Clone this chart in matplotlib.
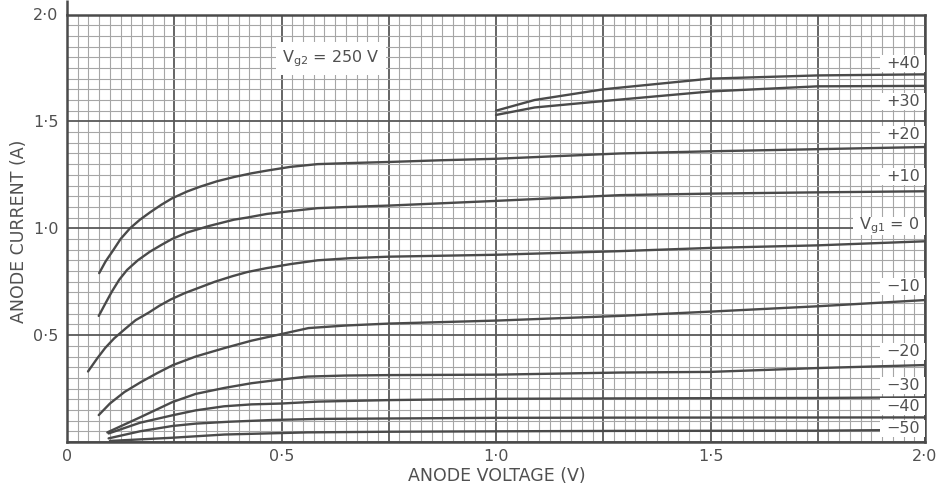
import matplotlib
matplotlib.use("Agg")
import matplotlib.pyplot as plt
from matplotlib.patches import Rectangle
from matplotlib.ticker import FixedLocator, FixedFormatter, MultipleLocator

plt.rcParams['font.family'] = ['DejaVu Sans']
plt.rcParams['mathtext.fontset'] = 'dejavusans'

# ---- axis ticks -------------------------------------------------------------
x_ticks = [0.0, 0.25, 0.5, 0.75, 1.0, 1.25, 1.5, 1.75, 2.0]
x_ticklabels = ['0', '', '0·5', '', '1·0', '', '1·5', '', '2·0']
y_ticks = [0.0, 0.5, 1.0, 1.5, 2.0]
y_ticklabels = ['', '0·5', '1·0', '1·5', '2·0']

# ---- anode characteristics (anode voltage, anode current) per grid-1 bias ----
p40_v = [1.00, 1.09, 1.25, 1.50, 1.75, 2.00]
p40_i = [1.55, 1.60, 1.65, 1.70, 1.715, 1.72]

p30_v = [1.00, 1.09, 1.25, 1.50, 1.75, 2.00]
p30_i = [1.53, 1.565, 1.595, 1.64, 1.664, 1.666]

p20_v = [0.075, 0.09, 0.107, 0.125, 0.147, 0.17, 0.194, 0.22, 0.245, 0.28, 0.311, 0.35,
         0.39, 0.43, 0.467, 0.52, 0.584, 0.66, 0.75, 0.87, 1.0, 1.15, 1.29, 1.5, 1.75, 2.0]
p20_i = [0.79, 0.845, 0.895, 0.95, 1.00, 1.04, 1.075, 1.11, 1.14, 1.172, 1.195, 1.22,
         1.24, 1.257, 1.27, 1.287, 1.30, 1.305, 1.31, 1.318, 1.325, 1.338, 1.35, 1.36, 1.37, 1.38]

p10_v = [0.074, 0.09, 0.105, 0.122, 0.14, 0.165, 0.193, 0.22, 0.245, 0.28, 0.33, 0.389,
         0.42, 0.466, 0.52, 0.584, 0.66, 0.75, 1.0, 1.29, 1.5, 1.75, 2.0]
p10_i = [0.59, 0.65, 0.705, 0.76, 0.805, 0.85, 0.89, 0.922, 0.95, 0.98, 1.01, 1.04,
         1.05, 1.067, 1.08, 1.094, 1.10, 1.106, 1.128, 1.155, 1.162, 1.168, 1.173]

z0_v = [0.049, 0.07, 0.089, 0.11, 0.136, 0.16, 0.191, 0.215, 0.242, 0.275, 0.308, 0.345,
        0.386, 0.42, 0.464, 0.52, 0.584, 0.66, 0.75, 1.0, 1.29, 1.5, 1.75, 2.0]
z0_i = [0.33, 0.39, 0.44, 0.485, 0.53, 0.57, 0.606, 0.637, 0.667, 0.697, 0.722, 0.75,
        0.776, 0.795, 0.813, 0.832, 0.85, 0.86, 0.867, 0.876, 0.893, 0.908, 0.92, 0.939]

m10_v = [0.074, 0.1, 0.134, 0.172, 0.21, 0.247, 0.3, 0.368, 0.43, 0.493, 0.563, 0.65,
         0.75, 1.0, 1.29, 1.5, 1.75, 2.0]
m10_i = [0.126, 0.18, 0.234, 0.28, 0.322, 0.36, 0.40, 0.44, 0.474, 0.502, 0.533, 0.545,
         0.554, 0.568, 0.59, 0.61, 0.635, 0.664]

m20_v = [0.094, 0.171, 0.246, 0.3, 0.367, 0.43, 0.49, 0.56, 0.65, 0.75, 1.0, 1.29, 1.5, 1.75, 2.0]
m20_i = [0.045, 0.116, 0.187, 0.225, 0.253, 0.275, 0.29, 0.306, 0.311, 0.313, 0.315, 0.325,
         0.328, 0.346, 0.36]

m30_v = [0.097, 0.17, 0.246, 0.3, 0.366, 0.43, 0.5, 0.585, 0.75, 1.0, 1.29, 1.5, 1.75, 2.0]
m30_i = [0.04, 0.09, 0.125, 0.148, 0.167, 0.176, 0.18, 0.189, 0.196, 0.202, 0.204, 0.205,
         0.206, 0.209]

m40_v = [0.097, 0.17, 0.246, 0.3, 0.38, 0.48, 0.585, 0.75, 1.0, 1.29, 2.0]
m40_i = [0.017, 0.05, 0.075, 0.086, 0.095, 0.103, 0.108, 0.11, 0.113, 0.114, 0.115]

m50_v = [0.10, 0.246, 0.367, 0.56, 0.75, 1.0, 1.29, 1.75, 2.0]
m50_i = [0.005, 0.02, 0.035, 0.045, 0.048, 0.05, 0.052, 0.053, 0.057]

curves = [(p40_v, p40_i), (p30_v, p30_i), (p20_v, p20_i), (p10_v, p10_i),
          (z0_v, z0_i), (m10_v, m10_i), (m20_v, m20_i), (m30_v, m30_i),
          (m40_v, m40_i), (m50_v, m50_i)]

# curve labels at the right-hand edge
curve_labels = ['+40', '+30', '+20', '+10', r'V$_{\rm g1}$ = 0',
                '−10', '−20', '−30', '−40', '−50']
label_y = [1.77, 1.593, 1.44, 1.243, 1.01, 0.729, 0.425, 0.266, 0.168, 0.065]

INK = '#4a4a4a'
TXT = '#505050'

fig = plt.figure(figsize=(9.42, 4.87), dpi=100)
ax = fig.add_axes([67 / 942, 1 - 442 / 487, (925 - 67) / 942, (442 - 14.5) / 487])
ax.set_xlim(0, 2.0)
ax.set_ylim(0, 2.0)

# graph-paper grid
ax.xaxis.set_major_locator(FixedLocator(x_ticks))
ax.xaxis.set_major_formatter(FixedFormatter(x_ticklabels))
ax.yaxis.set_major_locator(FixedLocator(y_ticks))
ax.yaxis.set_major_formatter(FixedFormatter(y_ticklabels))
ax.xaxis.set_minor_locator(MultipleLocator(0.025))
ax.yaxis.set_minor_locator(MultipleLocator(0.05))
ax.grid(which='minor', color='#a6a6a6', linewidth=0.8)
ax.grid(which='major', color='#585858', linewidth=1.3)
ax.set_axisbelow(True)
ax.tick_params(which='both', length=0, labelsize=11.5, labelcolor=TXT)
ax.tick_params(axis='x', pad=5)
ax.tick_params(axis='y', pad=6)

for sp in ax.spines.values():
    sp.set_color(INK)
    sp.set_linewidth(1.8)
ax.plot([0, 0], [2.0, 2.07], color=INK, lw=1.8, clip_on=False, solid_capstyle='butt')

for v, i in curves:
    ax.plot(v, i, color=INK, lw=1.7, solid_joinstyle='round', solid_capstyle='round', zorder=3)

texts = []
for txt, y in zip(curve_labels, label_y):
    texts.append(ax.text(1.988, y, txt, ha='right', va='center', fontsize=11.5,
                         color=TXT, zorder=6))

ax.text(0.615, 1.795, r'V$_{\rm g2}$ = 250 V', ha='center', va='center', fontsize=11.5,
        color=TXT, zorder=6, bbox=dict(boxstyle='square,pad=0.4', fc='white', ec='none'))

ax.set_xlabel('ANODE VOLTAGE (V)', fontsize=12.5, color=TXT, va='center')
ax.set_ylabel('ANODE CURRENT (A)', fontsize=12.5, color=TXT)
ax.xaxis.set_label_coords(0.501, -0.079)
ax.yaxis.set_label_coords(-0.046, 0.494)

# white label patches that blank out the grid behind each curve label
fig.canvas.draw()
renderer = fig.canvas.get_renderer()
to_axes = ax.transAxes.inverted()
for t in texts:
    bb = t.get_window_extent(renderer)
    cy = 0.5 * (bb.y0 + bb.y1)
    h = max(17.0, bb.height - 2.0) if '$' in t.get_text() else 17.0
    x0, y0 = to_axes.transform((bb.x0 - 6, cy - h / 2))
    x1, y1 = to_axes.transform((bb.x1, cy + h / 2))
    ax.add_patch(Rectangle((x0, y0), 1.0 - x0, y1 - y0, transform=ax.transAxes,
                           fc='white', ec='none', zorder=4))

fig.savefig('out.png', dpi=100, facecolor='white')
